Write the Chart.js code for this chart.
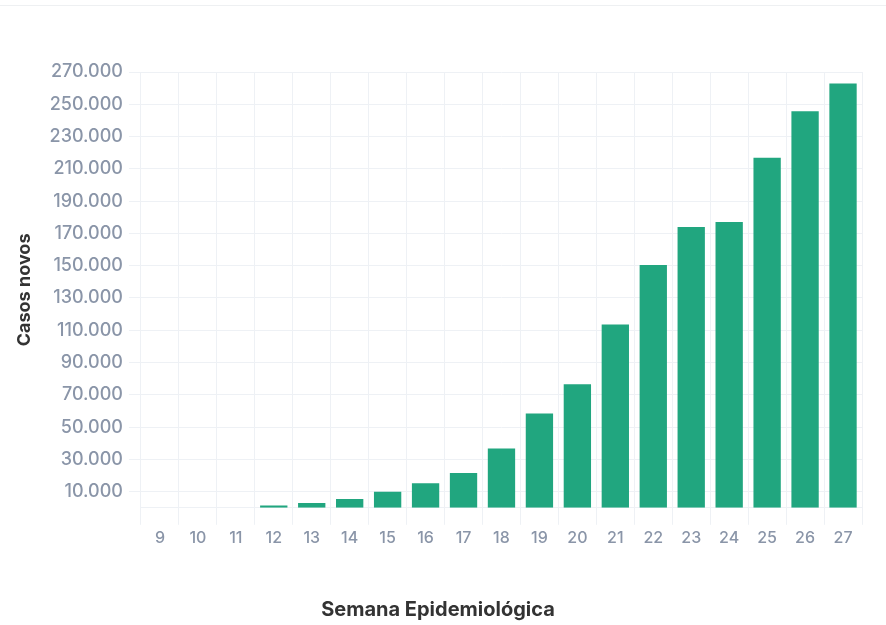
<!DOCTYPE html>
<html>
<head>
<meta charset="utf-8">
<script src="https://cdn.jsdelivr.net/npm/chart.js@4.4.0/dist/chart.umd.min.js"></script>
<style>
  html, body { margin: 0; padding: 0; background: #ffffff; }
  #topline { position: absolute; left: 0; top: 5px; width: 886px; height: 1px; background: #eef0f2; }
  #wrap { position: absolute; left: 0; top: 0; width: 886px; height: 625px; }
</style>
</head>
<body>
<div id="topline"></div>
<div id="wrap"><canvas id="c" width="886" height="625"></canvas></div>
<script>
const categories = ["9","10","11","12","13","14","15","16","17","18","19","20","21","22","23","24","25","26","27"];
const casosNovos = [1, 10, 100, 1500, 3000, 5500, 10000, 15200, 21500, 36800, 58500, 76500, 113600, 150400, 174000, 177100, 216800, 245700, 262900];
const yTickValues = [10000, 30000, 50000, 70000, 90000, 110000, 130000, 150000, 170000, 190000, 210000, 230000, 250000, 270000];
const yTitle = "Casos novos";
const xTitle = "Semana Epidemiológica";

function fmt(v) {
  return String(v).replace(/\B(?=(\d{3})+(?!\d))/g, ".");
}

const tickColor = "#8a95a8";
const gridColor = "#eef1f5";
const fontFam = "Inter, 'Noto Sans', sans-serif";

new Chart(document.getElementById("c"), {
  type: "bar",
  data: {
    labels: categories,
    datasets: [{
      data: casosNovos,
      backgroundColor: "#21a67f",
      borderWidth: 0,
      barPercentage: 0.9,
      categoryPercentage: 0.8
    }]
  },
  options: {
    responsive: false,
    animation: false,
    layout: { padding: { top: 72, right: 24, left: 14, bottom: 3 } },
    plugins: {
      legend: { display: false },
      tooltip: { enabled: false },
      title: {
        display: true, position: "bottom", text: xTitle, color: "#333333",
        font: { family: fontFam, size: 20, weight: "700" },
        padding: { top: 46, bottom: 0 }
      }
    },
    scales: {
      x: {
        grid: { color: gridColor, tickLength: 17, offset: true, drawTicks: true },
        border: { color: gridColor },
        ticks: { color: tickColor, font: { family: fontFam, size: 16, weight: "500" }, padding: 4 }
      },
      y: {
        min: 0,
        max: 270000,
        afterBuildTicks: (axis) => { axis.ticks = yTickValues.map(v => ({ value: v })); },
        grid: { color: gridColor, tickLength: 12 },
        border: { display: false },
        ticks: { color: tickColor, font: { family: fontFam, size: 18, weight: "500" }, padding: 6, callback: (v) => fmt(v) },
        title: { display: true, text: yTitle, color: "#333333", font: { family: fontFam, size: 18, weight: "700" }, padding: { top: 0, bottom: 8 } }
      }
    }
  }
});
</script>
</body>
</html>
